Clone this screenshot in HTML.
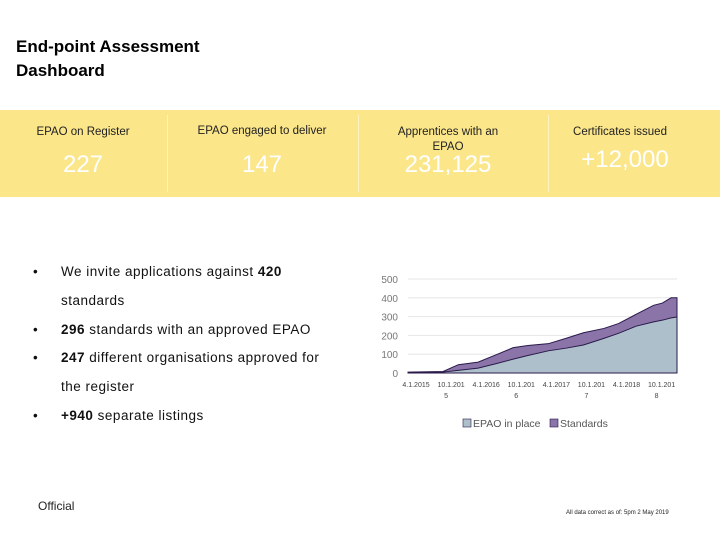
<!DOCTYPE html>
<html><head><meta charset="utf-8"><style>
body{margin:0;width:720px;height:540px;background:#fff;font-family:"Liberation Sans",sans-serif;position:relative;overflow:hidden}
.a{position:absolute;white-space:nowrap}
.lbl{font-size:11.5px;color:#222;text-align:center}
.num{font-size:24px;color:#fff;text-align:center}
.bl{font-size:13.5px;color:#111;letter-spacing:0.5px}
</style></head><body>
<div class="a" style="left:16px;top:35px;font-size:17px;font-weight:bold;line-height:24px;color:#000">End-point Assessment<br>Dashboard</div>
<div class="a" style="left:0;top:110px;width:720px;height:87px;background:#fbe68a"></div>
<div class="a" style="left:167px;top:115px;width:1px;height:77px;background:#fff3c0"></div>
<div class="a" style="left:358px;top:115px;width:1px;height:77px;background:#fff3c0"></div>
<div class="a" style="left:548px;top:115px;width:1px;height:77px;background:#fff3c0"></div>
<div class="a lbl" style="left:18px;top:126px;width:130px">EPAO on Register</div>
<div class="a num" style="left:18px;top:151px;width:130px">227</div>
<div class="a lbl" style="left:182px;top:125px;width:160px">EPAO engaged to deliver</div>
<div class="a num" style="left:182px;top:151px;width:160px">147</div>
<div class="a lbl" style="left:368px;top:125px;width:160px;line-height:15px">Apprentices with an<br>EPAO</div>
<div class="a num" style="left:368px;top:151px;width:160px">231,125</div>
<div class="a lbl" style="left:555px;top:126px;width:130px">Certificates issued</div>
<div class="a num" style="left:555px;top:146px;width:140px">+12,000</div>

<div class="a bl" style="left:0;top:0">
<div class="a" style="left:33px;top:264px">•</div><div class="a" style="left:61px;top:264px">We invite applications against <b>420</b></div>
<div class="a" style="left:61px;top:293px">standards</div>
<div class="a" style="left:33px;top:322px">•</div><div class="a" style="left:61px;top:322px"><b>296</b> standards with an approved EPAO</div>
<div class="a" style="left:33px;top:350px">•</div><div class="a" style="left:61px;top:350px"><b>247</b> different organisations approved for</div>
<div class="a" style="left:61px;top:379px">the register</div>
<div class="a" style="left:33px;top:408px">•</div><div class="a" style="left:61px;top:408px"><b>+940</b> separate listings</div>
</div>
<div class="a" style="left:38px;top:499px;font-size:12px;color:#222">Official</div>
<div class="a" style="left:566px;top:510px;font-size:6px;color:#222">All data correct as of: 5pm 2 May 2019</div>

<svg id="chart" class="a" style="left:0;top:0" width="720" height="540"></svg>
<script>
const months=[0,6,8.6,12,15,18,20.5,24,27,30,33.5,36,39,42,43.5,45,46];
const epao=[3,5,14,26,49,74,93,118,132,149,184,211,249,272,281,293,298];
const standards=[5,8,44,58,96,135,146,156,184,214,237,263,312,360,372,400,400];
const yTicks=[0,100,200,300,400,500];
const xRow1=["4.1.2015","10.1.201","4.1.2016","10.1.201","4.1.2017","10.1.201","4.1.2018","10.1.201"];
const xRow2=["","5","","6","","7","","8"];
const xTickMonths=[0,6,12,18,24,30,36,42];
const X0=408,X1=677,Y0=373,Y500=279,M=46;
const sx=m=>X0+m*(X1-X0)/M, sy=v=>Y0-v*(Y0-Y500)/500;
const svg=document.getElementById('chart'),NS="http://www.w3.org/2000/svg";
function mk(t,a){const e=document.createElementNS(NS,t);for(const k in a)e.setAttribute(k,a[k]);svg.appendChild(e);return e;}
yTicks.forEach(v=>{
 if(v>0){const g=mk('line',{x1:X0,x2:X1,y1:sy(v),y2:sy(v),stroke:'#e6e6e6'});
 
 }
 const t=mk('text',{x:398,y:sy(v)+4,'text-anchor':'end','font-size':10,fill:'#777','font-family':'Liberation Sans'});t.textContent=v;
 
 
});
function area(arr,fill,name){
 let d='M'+sx(months[0])+','+sy(0);
 months.forEach((m,i)=>d+=' L'+sx(m)+','+sy(arr[i]));
 d+=' L'+sx(months[months.length-1])+','+sy(0)+' Z';
 const p=mk('path',{d:d,fill:fill,stroke:'#2a1a4a','stroke-width':1});
 
 
}
area(standards,'#8a74a8','standards-area');
area(epao,'#aebfcc','epao-area');
xTickMonths.forEach((m,i)=>{
 const t=mk('text',{x:sx(m)+8,y:387,'text-anchor':'middle','font-size':7,fill:'#444','font-family':'Liberation Sans'});t.textContent=xRow1[i];
 
 
 if(xRow2[i]){const t2=mk('text',{x:sx(m)+3,y:398,'text-anchor':'middle','font-size':7,fill:'#444','font-family':'Liberation Sans'});t2.textContent=xRow2[i];
 
 }
});
const lg=[[463,'#aebfcc','EPAO in place'],[550,'#8a74a8','Standards']];
lg.forEach(l=>{
 const r=mk('rect',{x:l[0],y:419,width:8,height:8,fill:l[1],stroke:'#2a1a4a','stroke-width':0.6});
 
 
 const t=mk('text',{x:l[0]+10,y:427,'font-size':10.5,fill:'#555','font-family':'Liberation Sans'});t.textContent=l[2];
 
 
});
</script>
</body></html>
